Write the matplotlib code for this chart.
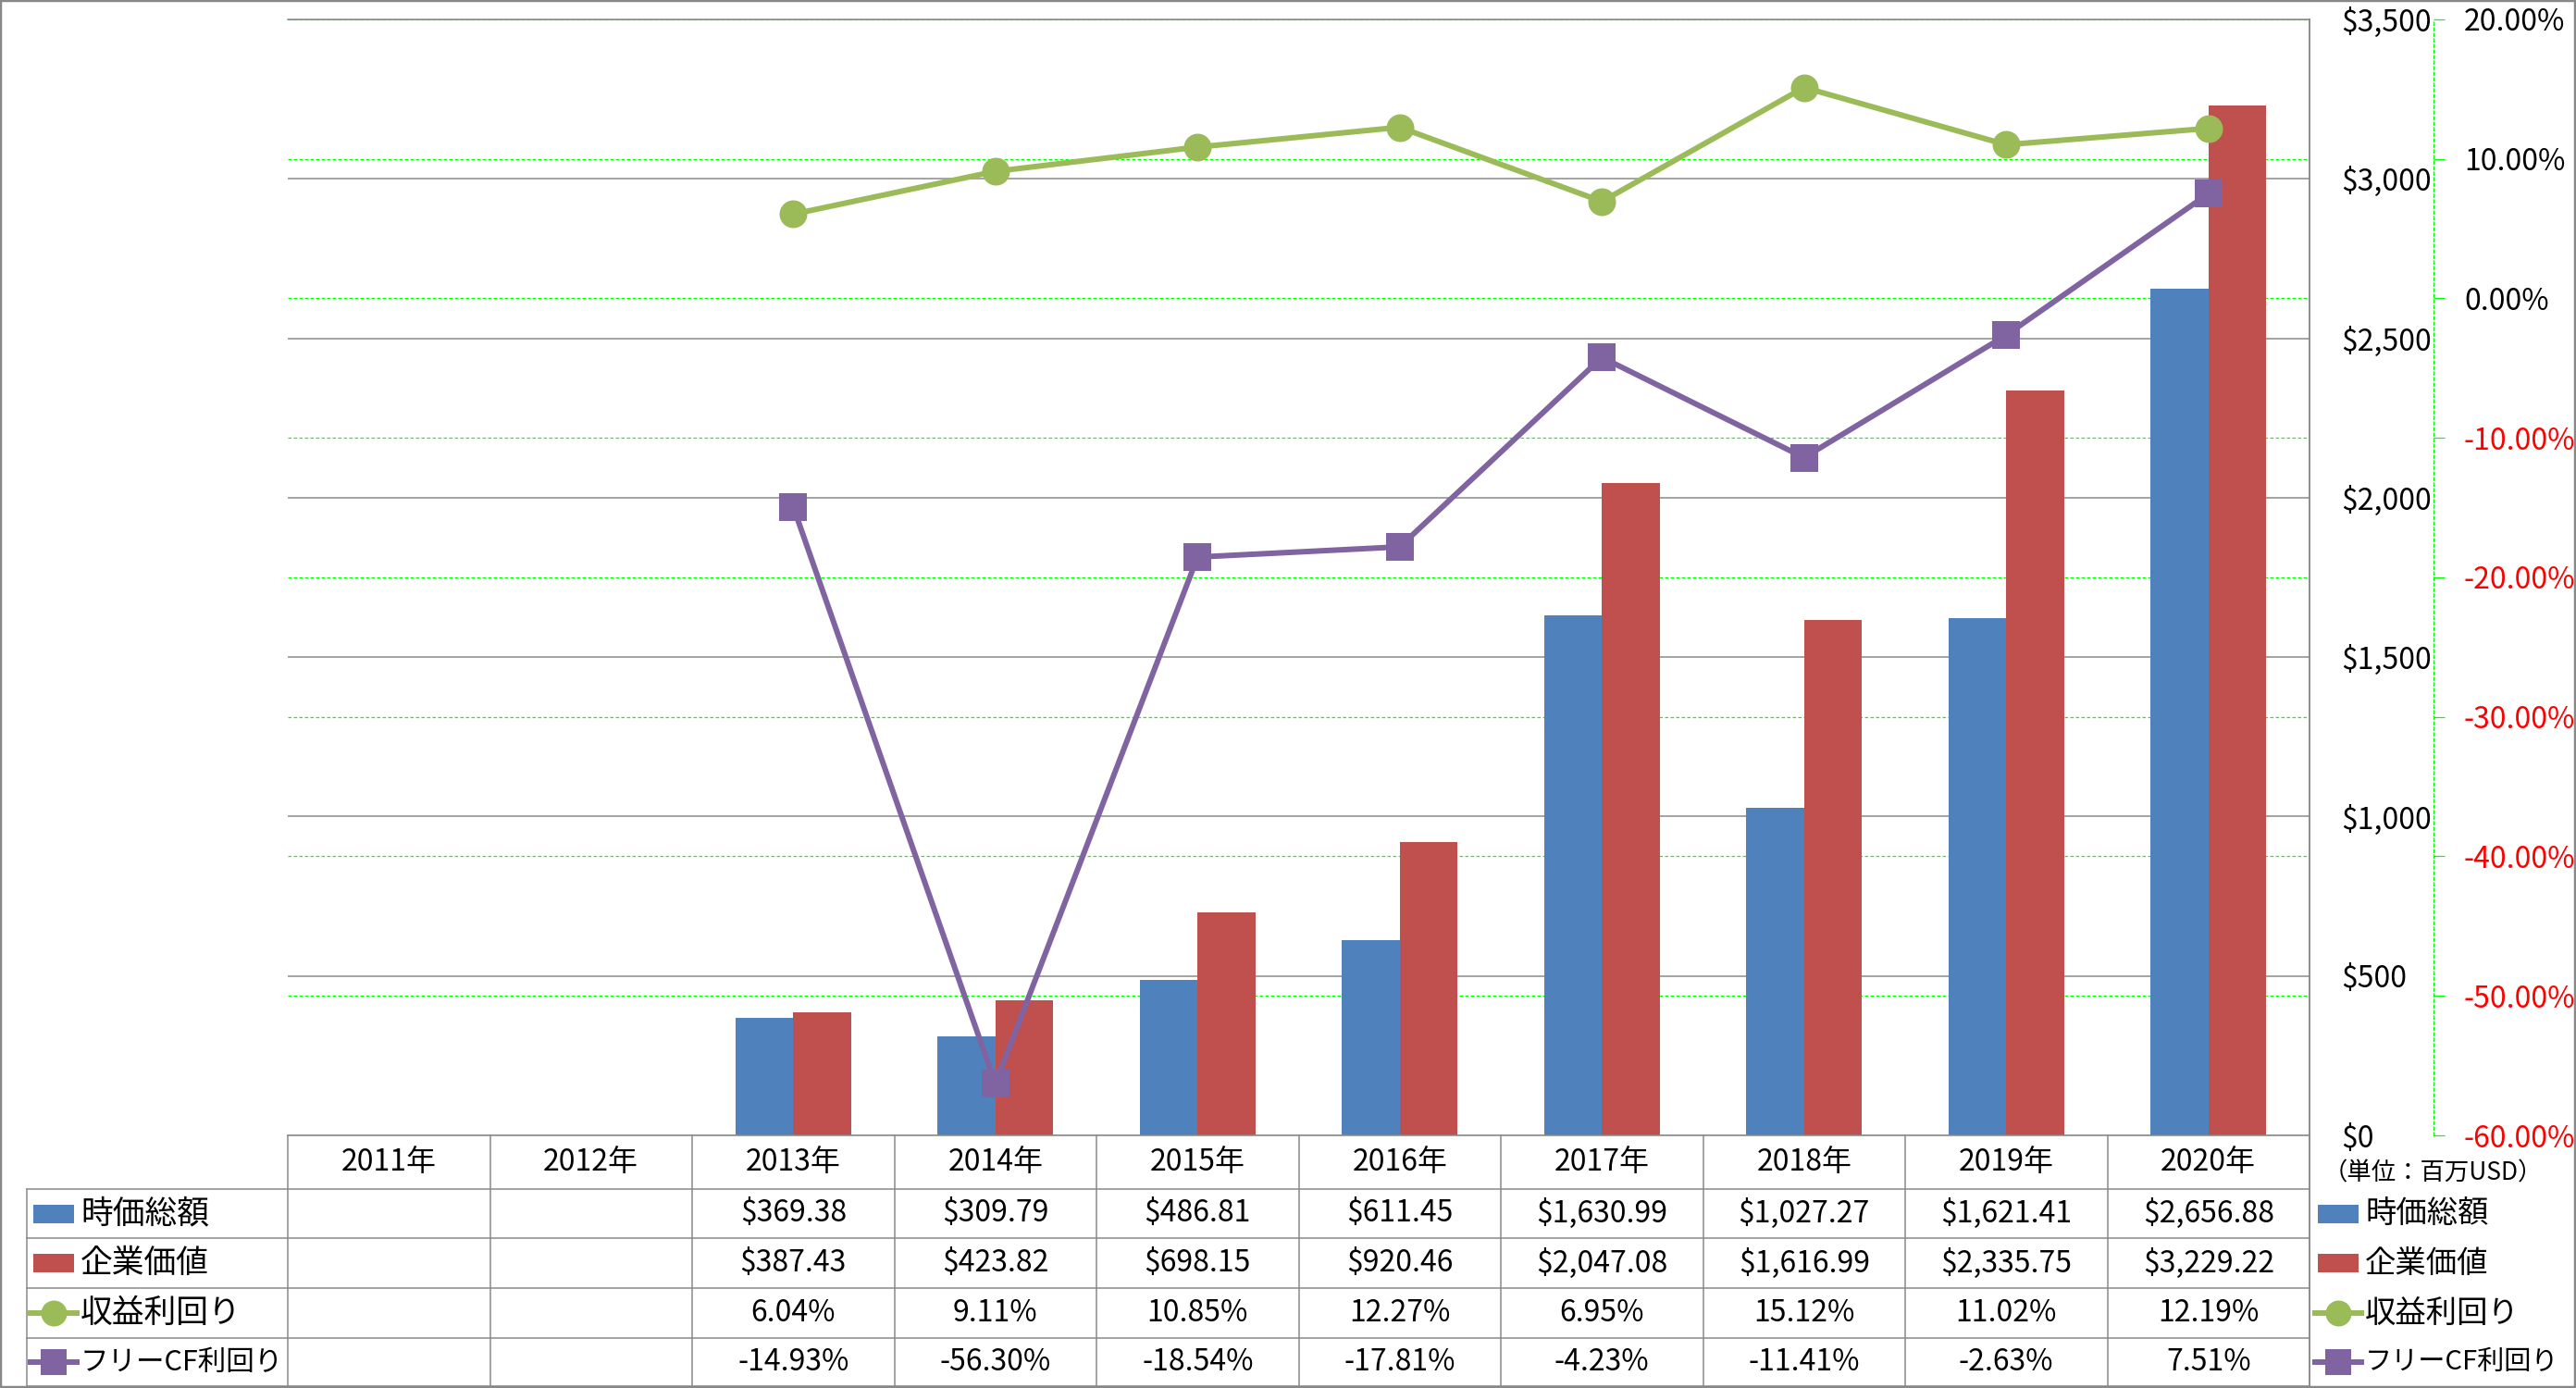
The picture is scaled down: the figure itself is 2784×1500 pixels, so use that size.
import matplotlib
matplotlib.use("Agg")
import matplotlib.pyplot as plt
import numpy as np
from matplotlib.lines import Line2D
from matplotlib.patches import Rectangle
from matplotlib.transforms import blended_transform_factory

plt.rcParams["font.family"] = ["Noto Sans CJK JP", "DejaVu Sans"]

# ── data ─────────────────────────────────────────────────────────
YEARS = ["2011年", "2012年", "2013年", "2014年", "2015年",
         "2016年", "2017年", "2018年", "2019年", "2020年"]
MARKET_CAP = [np.nan, np.nan, 369.38, 309.79, 486.81, 611.45,
              1630.99, 1027.27, 1621.41, 2656.88]          # 時価総額
ENTERPRISE_VALUE = [np.nan, np.nan, 387.43, 423.82, 698.15, 920.46,
                    2047.08, 1616.99, 2335.75, 3229.22]    # 企業価値
EARNINGS_YIELD = [np.nan, np.nan, 6.04, 9.11, 10.85, 12.27,
                  6.95, 15.12, 11.02, 12.19]               # 収益利回り (%)
FCF_YIELD = [np.nan, np.nan, -14.93, -56.30, -18.54, -17.81,
             -4.23, -11.41, -2.63, 7.51]                   # フリーCF利回り (%)
SERIES_NAMES = ["時価総額", "企業価値", "収益利回り", "フリーCF利回り"]
USD_TICKS = [0, 500, 1000, 1500, 2000, 2500, 3000, 3500]
PCT_TICKS = [-60, -50, -40, -30, -20, -10, 0, 10, 20]
UNIT_NOTE = "（単位：百万USD）"

# ── style / layout (pixels) ──────────────────────────────────────
W, H = 2784, 1500
PLOT_L, PLOT_R, PLOT_T, PLOT_B = 311, 2496, 21, 1227
ROW_Y = [1227, 1285, 1338, 1392, 1446, 1498]
LEG_L = 29
BLUE, RED = "#4F81BD", "#C0504D"
GREEN_LINE, PURPLE = "#9BBB59", "#8064A2"
GRID_GRAY = "#888888"
GRID_GREEN = "#00FF00"
PX = 72.0 / 100.0  # points per pixel at dpi=100
FS = 23
LEG_FS = [25, 25, 25, 22]  # the long katakana label is set a bit smaller

fig = plt.figure(figsize=(W / 100, H / 100), dpi=100)
ax = fig.add_axes([PLOT_L / W, 1 - PLOT_B / H,
                   (PLOT_R - PLOT_L) / W, (PLOT_B - PLOT_T) / H])

x = np.arange(len(YEARS))
bw = 0.285
ax.bar(x - bw / 2, MARKET_CAP, bw, color=BLUE, zorder=2)
ax.bar(x + bw / 2, ENTERPRISE_VALUE, bw, color=RED, zorder=2)
ax.set_xlim(-0.5, len(YEARS) - 0.5)
ax.set_ylim(USD_TICKS[0], USD_TICKS[-1])
ax.set_xticks([])
ax.grid(axis="y", color=GRID_GRAY, lw=1.5 * PX)
ax.set_axisbelow(True)
for s in ("left", "bottom"):
    ax.spines[s].set_visible(False)
for s in ("top", "right"):
    ax.spines[s].set_color(GRID_GRAY)
    ax.spines[s].set_linewidth(1.5 * PX)

# secondary % axis, spine pushed out past the $ labels
ax2 = ax.twinx()
ax2.set_ylim(PCT_TICKS[0], PCT_TICKS[-1])
ax2.set_yticks(PCT_TICKS, labels=[f"{v:.2f}%" for v in PCT_TICKS])
for s in ("left", "top", "bottom"):
    ax2.spines[s].set_visible(False)
sp = ax2.spines["right"]
sp.set_position(("outward", 134 * PX))
sp.set_color(GRID_GREEN)
sp.set_linestyle((0, (3, 2)))
sp.set_linewidth(1.2 * PX)
ax2.tick_params(axis="y", length=12 * PX, width=1.2 * PX, color=GRID_GREEN,
                direction="out", pad=21 * PX, labelsize=FS)
for lab, v in zip(ax2.get_yticklabels(), PCT_TICKS):
    lab.set_color("#FF0000" if v < 0 else "black")

# $ labels on the right (twinx moved them left, so set after it)
ax.set_yticks(USD_TICKS, labels=[f"${v:,.0f}" for v in USD_TICKS])
ax.yaxis.tick_right()
ax.tick_params(axis="y", which="both", left=False, right=False,
               labelleft=False, labelright=True, length=0,
               pad=34 * PX, labelsize=FS)

# green % gridlines drawn on the primary axes so bars cover them
blend = blended_transform_factory(ax.transAxes, ax2.transData)
for v in PCT_TICKS:
    ax.plot([0, 1], [v, v], transform=blend, color=GRID_GREEN,
            lw=1.2 * PX, ls=(0, (3, 2)), zorder=1.5)

LINE_KW = dict(lw=6 * PX, ms=30 * PX, markeredgewidth=0)
ax2.plot(x, EARNINGS_YIELD, color=GREEN_LINE, marker="o", zorder=3, **LINE_KW)
ax2.plot(x, FCF_YIELD, color=PURPLE, marker="s", zorder=3, **LINE_KW)

# ── data table + legends (pixel overlay) ─────────────────────────
tab = fig.add_axes([0, 0, 1, 1])
tab.set_xlim(0, W)
tab.set_ylim(H, 0)
tab.axis("off")
tab.patch.set_visible(False)

lkw = dict(color=GRID_GRAY, lw=1.5 * PX)
col_w = (PLOT_R - PLOT_L) / len(YEARS)
tab.add_line(Line2D([PLOT_L, PLOT_R], [ROW_Y[0]] * 2, **lkw))
for y in ROW_Y[1:]:
    tab.add_line(Line2D([LEG_L, PLOT_R], [y, y], **lkw))
for k in range(len(YEARS) + 1):
    xx = PLOT_L + k * col_w
    tab.add_line(Line2D([xx, xx], [ROW_Y[0], ROW_Y[-1]], **lkw))
tab.add_line(Line2D([PLOT_R, PLOT_R], [PLOT_T, ROW_Y[-1]], **lkw))
tab.add_line(Line2D([LEG_L, LEG_L], [ROW_Y[1], ROW_Y[-1]], **lkw))
tab.add_patch(Rectangle((1, 1), W - 2, H - 2, fill=False,
                        edgecolor=GRID_GRAY, lw=2.5 * PX))

centers = [(ROW_Y[i] + ROW_Y[i + 1]) / 2 for i in range(len(ROW_Y) - 1)]
for i, yr in enumerate(YEARS):
    tab.text(PLOT_L + (i + 0.5) * col_w, centers[0], yr,
             ha="center", va="center", fontsize=FS)

rows = [
    (MARKET_CAP, lambda v: f"${v:,.2f}"),
    (ENTERPRISE_VALUE, lambda v: f"${v:,.2f}"),
    (EARNINGS_YIELD, lambda v: f"{v:.2f}%"),
    (FCF_YIELD, lambda v: f"{v:.2f}%"),
]
for r, (vals, fmt) in enumerate(rows):
    yc = centers[r + 1]
    for i, v in enumerate(vals):
        if np.isnan(v):
            continue
        tab.text(PLOT_L + (i + 0.5) * col_w, yc, fmt(v),
                 ha="center", va="center", fontsize=FS)


def legend_key(x0, yc, r, fs):
    if r < 2:
        tab.add_patch(Rectangle((x0 + 3, yc - 10), 44, 20,
                                color=[BLUE, RED][r], lw=0))
    else:
        col = [GREEN_LINE, PURPLE][r - 2]
        mk = ["o", "s"][r - 2]
        tab.add_line(Line2D([x0, x0 + 50], [yc, yc], color=col,
                            lw=6 * PX))
        tab.add_line(Line2D([x0 + 25], [yc], color=col, marker=mk,
                            ms=28 * PX, markeredgewidth=0))
    tab.text(x0 + 54, yc, SERIES_NAMES[r], ha="left", va="center",
             fontsize=fs)


for r in range(4):
    legend_key(LEG_L + 4, centers[r + 1], r, LEG_FS[r])
    legend_key(2502, centers[r + 1], r, LEG_FS[r] - 1)

tab.text(2629, 1268, UNIT_NOTE, ha="center", va="center", fontsize=19)

fig.savefig("out.png", dpi=100)
plt.close(fig)
